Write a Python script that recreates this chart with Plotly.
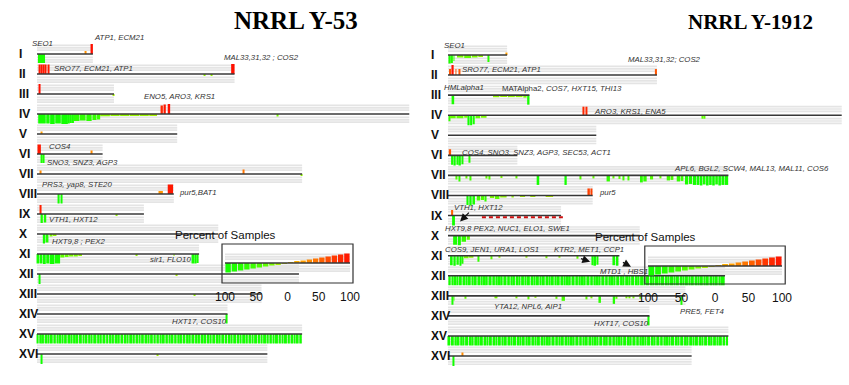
import plotly.graph_objects as go

# ---------------- data ----------------
ROMAN = ["I", "II", "III", "IV", "V", "VI", "VII", "VIII", "IX", "X",
         "XI", "XII", "XIII", "XIV", "XV", "XVI"]
CHROM_KB = [230, 813, 317, 1532, 577, 270, 1091, 563, 440, 746, 667, 1078, 924, 784, 1091, 948]
STRAINS = ["NRRL Y-53", "NRRL Y-1912"]

# (chromosome, start kb, end kb, percent of samples; + gain, - loss)
Y53_GAINS = [
    (1, 196, 200, 30), (1, 224, 230, 100),
    (2, 8, 12, 95), (2, 18, 22, 95), (2, 26, 31, 95), (2, 35, 39, 95), (2, 44, 49, 95), (2, 799, 813, 100),
    (3, 10, 14, 100),
    (4, 512, 518, 85), (4, 524, 530, 95), (4, 538, 548, 100),
    (5, 18, 22, 25),
    (6, 2, 16, 95), (6, 224, 228, 35),
    (7, 12, 16, 35), (7, 846, 851, 45),
    (8, 500, 518, 30), (8, 538, 560, 95),
    (9, 12, 16, 90),
]
Y53_LOSSES = [
    (1, 4, 33, -90),
    (2, 686, 690, -20), (2, 716, 720, -20),
    (3, 313, 317, -15),
    (4, 5, 36, -95), (4, 38, 52, -95), (4, 54, 73, -100), (4, 75, 98, -95), (4, 100, 127, -100),
    (4, 129, 135, -95), (4, 137, 143, -90), (4, 145, 152, -90),
    (4, 152, 175, -70), (4, 177, 200, -65), (4, 203, 225, -70), (4, 228, 245, -60), (4, 247, 260, -55),
    (4, 260, 300, -22), (4, 302, 340, -20), (4, 342, 380, -20), (4, 382, 420, -18), (4, 422, 460, -18),
    (4, 462, 494, -15), (4, 986, 992, -25),
    (6, 17, 21, -90), (6, 25, 29, -90),
    (7, 1087, 1091, -20),
    (8, 88, 93, -95), (8, 100, 105, -95),
    (9, 18, 24, -90), (9, 28, 38, -85), (9, 326, 331, -20),
    (10, 24, 33, -95), (10, 35, 47, -85), (10, 52, 64, -25), (10, 66, 80, -20),
    (11, 2, 10, -95), (11, 12, 22, -95), (11, 24, 36, -100), (11, 38, 50, -95), (11, 52, 72, -100),
    (11, 74, 95, -95), (11, 96, 112, -35), (11, 114, 130, -30), (11, 132, 150, -25), (11, 152, 168, -25),
    (11, 170, 185, -20), (11, 409, 413, -20), (11, 562, 566, -20),
    (11, 640, 648, -95), (11, 651, 656, -95), (11, 659, 664, -90),
    (12, 10, 14, -100), (12, 573, 577, -15),
    (13, 645, 649, -20),
    (14, 778, 784, -95),
    (16, 18, 22, -100), (16, 495, 499, -15),
]
# block edges (kb) of densely lost chromosomes
Y53_XV_EDGES = [0, 8, 21, 30, 44, 52, 66, 79, 88, 101, 110, 124, 139, 147, 160, 171, 186, 196, 209, 221,
                230, 246, 258, 268, 283, 295, 307, 318, 333, 342, 356, 369, 378, 393, 404, 417, 427, 441,
                455, 464, 478, 490, 503, 512, 527, 540, 549, 563, 576, 588, 598, 612, 625, 634, 649, 661,
                672, 686, 697, 710, 720, 735, 748, 757, 772, 784, 797, 806, 821, 833, 843, 858, 869, 882,
                892, 907, 919, 929, 944, 955, 968, 978, 993, 1005, 1015, 1030, 1042, 1055, 1064, 1078, 1091]

Y1912_GAINS = [
    (1, 227, 230, 25),
    (2, 4, 12, 60), (2, 16, 22, 100), (2, 29, 32, 60), (2, 42, 47, 60), (2, 805, 813, 60),
    (4, 525, 531, 85), (4, 536, 542, 85),
    (6, 3, 12, 60),
    (8, 545, 552, 70), (8, 555, 561, 70),
    (9, 12, 20, 55),
    (16, 56, 60, 35),
]
Y1912_LOSSES = [
    (1, 4, 10, -85), (1, 12, 19, -80), (1, 22, 25, -60), (1, 35, 60, -25), (1, 63, 90, -30),
    (1, 93, 115, -25), (1, 118, 136, -20), (1, 154, 158, -70),
    (3, 14, 24, -90), (3, 175, 200, -20), (3, 203, 230, -18), (3, 233, 260, -20), (3, 263, 290, -20),
    (3, 293, 306, -25), (3, 308, 317, -95),
    (4, 3, 6, -60), (4, 8, 30, -30), (4, 33, 60, -30), (4, 63, 76, -25), (4, 78, 84, -100),
    (4, 86, 94, -100), (4, 96, 104, -90), (4, 107, 125, -30), (4, 128, 150, -25),
    (4, 988, 992, -35), (4, 996, 1000, -35),
    (6, 12, 20, -95), (6, 23, 30, -100), (6, 33, 40, -95), (6, 43, 50, -100), (6, 53, 58, -90), (6, 80, 84, -75),
    (7, 32, 36, -40), (7, 42, 46, -60), (7, 71, 75, -30), (7, 84, 88, -50), (7, 148, 152, -30),
    (7, 161, 165, -40), (7, 207, 211, -25), (7, 265, 269, -30), (7, 345, 355, -95), (7, 455, 462, -95),
    (7, 512, 516, -40), (7, 563, 567, -30), (7, 617, 630, -60), (7, 640, 644, -30), (7, 667, 671, -35),
    (7, 679, 683, -50), (7, 700, 704, -50), (7, 747, 758, -70), (7, 760, 773, -60), (7, 786, 798, -40),
    (7, 823, 827, -30), (7, 851, 864, -50), (7, 866, 877, -45), (7, 890, 903, -60), (7, 905, 916, -55),
    (7, 922, 934, -90), (7, 937, 950, -85), (7, 953, 966, -95),
    (7, 968, 978, -95), (7, 980, 990, -100), (7, 992, 1002, -90), (7, 1004, 1014, -100), (7, 1016, 1026, -95),
    (7, 1028, 1038, -100), (7, 1040, 1050, -90), (7, 1052, 1062, -100), (7, 1064, 1074, -95), (7, 1076, 1090, -95),
    (8, 73, 80, -95), (8, 83, 92, -100), (8, 95, 105, -90), (8, 112, 125, -50), (8, 128, 140, -45),
    (8, 143, 150, -60), (8, 163, 180, -25), (8, 183, 200, -35), (8, 203, 228, -20), (8, 250, 256, -20),
    (8, 280, 300, -15), (8, 320, 340, -15), (8, 380, 409, -12),
    (9, 16, 27, -100),
    (10, 20, 35, -90), (10, 38, 50, -95), (10, 53, 70, -60), (10, 73, 85, -40),
    (11, 8, 18, -95), (11, 21, 30, -100), (11, 33, 42, -90), (11, 45, 52, -100), (11, 55, 60, -80),
    (11, 62, 80, -25), (11, 82, 99, -20), (11, 115, 119, -60), (11, 168, 172, -35), (11, 200, 203, -20),
    (11, 305, 309, -20), (11, 380, 384, -25), (11, 430, 434, -20), (11, 500, 505, -30),
    (11, 559, 566, -95), (11, 569, 576, -100), (11, 579, 585, -90), (11, 643, 650, -95), (11, 653, 663, -100),
    (13, 15, 19, -90), (13, 22, 25, -50), (13, 64, 68, -30), (13, 181, 185, -25), (13, 188, 192, -25),
    (13, 265, 269, -25), (13, 310, 314, -35), (13, 337, 341, -20), (13, 421, 425, -30), (13, 442, 455, -50),
    (13, 538, 542, -35), (13, 557, 561, -25), (13, 589, 595, -70), (13, 641, 650, -80), (13, 654, 658, -30),
    (13, 693, 697, -25), (13, 706, 710, -25), (13, 718, 722, -25), (13, 745, 749, -30), (13, 907, 912, -90),
    (14, 779, 784, -95),
    (16, 18, 22, -100),
]
Y1912_XII_EDGES = [0, 12, 20, 34, 41, 55, 68, 75, 90, 98, 113, 126, 133, 148, 156, 171, 184, 191, 206, 214,
                   229, 242, 249, 262, 275, 283, 297, 305, 320, 333, 340, 355, 363, 378, 391, 398, 413, 421,
                   436, 449, 456, 471, 479, 494, 507, 514, 529, 537, 552, 565, 572, 587, 595, 610, 623, 630,
                   645, 653, 668, 681, 688, 703, 711, 726, 739, 746, 761, 769, 784, 797, 804, 819, 827, 842,
                   855, 862, 877, 885, 900, 913, 920, 935, 943, 958, 971, 978, 993, 1001, 1016, 1029, 1036,
                   1051, 1059, 1078]
Y1912_XV_EDGES = [0, 10, 24, 31, 46, 58, 65, 80, 93, 101, 116, 122, 137, 150, 158, 172, 185, 193, 207, 215,
                  230, 243, 251, 266, 279, 286, 300, 308, 323, 336, 344, 359, 372, 379, 393, 401, 416, 429,
                  437, 452, 465, 472, 486, 494, 509, 522, 530, 545, 558, 565, 579, 587, 602, 615, 623, 638,
                  651, 658, 672, 680, 695, 708, 716, 731, 744, 751, 765, 773, 788, 801, 809, 824, 837, 844,
                  858, 866, 881, 894, 902, 917, 930, 937, 951, 959, 974, 987, 995, 1010, 1023, 1030, 1044,
                  1052, 1067, 1080, 1091]
DENSE_PCT = -95
Y1912_IX_DASH = (9, 132, 447)

# gene labels: (text, chromosome, kb, row offset)
Y53_LABELS = [
    ("SEO1", 1, -29, -0.55), ("ATP1, ECM21", 1, 226, -0.85),
    ("MAL33,31,32 ; COS2", 2, 761, -0.85), ("SRO77, ECM21, ATP1", 2, 62, -0.3),
    ("ENO5, ARO3, KRS1", 4, 432, -0.9),
    ("COS4", 6, 41, -0.4), ("SNO3, SNZ3, AGP3", 6, 33, 0.4),
    ("PRS3, yap8, STE20", 8, 12, -0.5), ("pur5,BAT1", 8, 576, -0.1),
    ("VTH1, HXT12", 9, 41, 0.25), ("HXT9,8 ; PEX2", 10, 53, 0.35),
    ("sir1, FLO10", 11, 457, 0.25), ("HXT17, COS10", 14, 547, 0.35),
]
Y1912_LABELS = [
    ("SEO1", 1, -23, -0.45), ("MAL33,31,32; COS2", 2, 693, -0.8), ("SRO77, ECM21, ATP1", 2, 47, -0.3),
    ("HMLalpha1", 3, -22, -0.38), ("MATAlpha2, <i>COS7, HXT15, THI13</i>", 3, 202, -0.35),
    ("ARO3, KRS1, ENA5", 4, 560, -0.2),
    ("COS4, SNO3, SNZ3, AGP3, SEC53, ACT1", 6, 47, -0.15),
    ("APL6, BGL2, SCW4, MAL13, MAL11, COS6", 7, 872, -0.35),
    ("pur5", 8, 580, -0.15), ("VTH1, HXT12", 9, 16, -0.4),
    ("HXT9,8 PEX2, NUC1, ELO1, SWE1", 10, -19, -0.35),
    ("COS9, JEN1, URA1, LOS1", 11, -19, -0.3), ("KTR2, MET1, CCP1", 11, 405, -0.3),
    ("MTD1 , HBS1", 11, 584, 0.8),
    ("YTA12, NPL6, AIP1", 13, 171, 0.55), ("PRE5, FET4", 13, 895, 0.8),
    ("HXT17, COS10", 14, 560, 0.4),
]
# arrows: (chromosome, tail kb, tail offset, head kb, head offset)
Y1912_ARROWS = [(9, 93, -0.3, 47, 0.3), (11, 506, 0.1, 553, 0.3), (11, 669, 0.25, 712, 0.55)]

LEGEND_PCT = [-95, -85, -75, -65, -55, -45, -35, -25, -15, -5, 5, 15, 25, 35, 45, 55, 65, 75, 85, 95]
LEGEND_TICKS = [-100, -50, 0, 50, 100]
LEGEND_TICKTEXT = ["100", "50", "0", "50", "100"]

# ---------------- style ----------------
SANS = "Liberation Sans"
SERIF = "Liberation Serif"
SCALE = 0.005          # rows per percent
STRIPES = [-0.43, -0.31, -0.19, 0.17, 0.29, 0.41]
COLORSCALE = [[0.0, "#11ff00"], [0.2, "#33ff00"], [0.35, "#66ff00"], [0.45, "#bbee00"],
              [0.5, "#eedd00"], [0.55, "#ffbb00"], [0.7, "#ff8000"], [0.85, "#ff4000"], [1.0, "#ff1000"]]
W, H = 849, 385
LEFT_PX0, LEFT_PXKB = 37, 0.243      # left panel: pixel of 0 kb, pixels per kb
RIGHT_PX0, RIGHT_PXKB = 448, 0.257
KB_LO = -150


def dense(chrom, edges, pct):
    return [(chrom, a + 1.5, b - 1.5, pct) for a, b in zip(edges[:-1], edges[1:])]


def bar_trace(feats, xa, ya):
    return go.Bar(
        x=[(a + b) / 2 for _, a, b, _ in feats],
        width=[max(b - a, 3) for _, a, b, _ in feats],
        base=[c - 1 for c, _, _, _ in feats],
        y=[-p * SCALE for _, _, _, p in feats],
        marker=dict(color=[p for *_, p in feats], colorscale=COLORSCALE, cmin=-100, cmax=100,
                    line=dict(width=0)),
        xaxis=xa, yaxis=ya, hoverinfo="skip")


def stripe_shapes(spans, xa, ya):
    out = []
    for row, a, b in spans:
        for off in STRIPES:
            out.append(dict(type="line", xref=xa, yref=ya, x0=a, x1=b, y0=row + off, y1=row + off,
                            line=dict(color="#e4e4e4", width=1.7), layer="below"))
    return out


def baseline_trace(spans, xa, ya):
    xs, ys = [], []
    for row, a, b in spans:
        xs += [a, b, None]
        ys += [row, row, None]
    return go.Scatter(x=xs, y=ys, mode="lines", line=dict(color="#383838", width=1.6),
                      xaxis=xa, yaxis=ya, hoverinfo="skip")


fig = go.Figure()
chrom_spans = [(i, 0, L) for i, L in enumerate(CHROM_KB)]
shapes = []

panels = [
    ("x", "y", Y53_GAINS + Y53_LOSSES + dense(15, Y53_XV_EDGES, DENSE_PCT)),
    ("x2", "y2", Y1912_GAINS + Y1912_LOSSES + dense(12, Y1912_XII_EDGES, DENSE_PCT)
     + dense(15, Y1912_XV_EDGES, DENSE_PCT)),
]
for xa, ya, feats in panels:
    shapes += stripe_shapes(chrom_spans, xa, ya)
    fig.add_trace(bar_trace(feats, xa, ya))
    fig.add_trace(baseline_trace(chrom_spans, xa, ya))

c, a, b = Y1912_IX_DASH
fig.add_trace(go.Scatter(x=[a, b], y=[c - 1 + 0.08] * 2, mode="lines",
                         line=dict(color="#cc1010", width=2, dash="4px,3px"),
                         xaxis="x2", yaxis="y2", hoverinfo="skip"))

# legend insets
for xa, ya in [("x3", "y3"), ("x4", "y4")]:
    shapes += stripe_shapes([(0, -100, 100)], xa, ya)
    fig.add_trace(go.Bar(x=LEGEND_PCT, width=[8.6] * len(LEGEND_PCT), base=[0] * len(LEGEND_PCT),
                         y=[-p * SCALE for p in LEGEND_PCT],
                         marker=dict(color=LEGEND_PCT, colorscale=COLORSCALE, cmin=-100, cmax=100,
                                     line=dict(width=0)),
                         xaxis=xa, yaxis=ya, hoverinfo="skip"))
    fig.add_trace(baseline_trace([(0, -100, 100)], xa, ya))
    shapes.append(dict(type="rect", xref=xa + " domain", yref=ya + " domain", x0=-0.024, x1=1.024,
                       y0=0, y1=1, line=dict(color="#333", width=1.2), fillcolor="rgba(0,0,0,0)",
                       layer="above"))

hidden = dict(visible=False, showgrid=False, zeroline=False)
tickax = dict(showgrid=False, zeroline=False, showline=False, ticks="", tickvals=LEGEND_TICKS,
              ticktext=LEGEND_TICKTEXT, tickfont=dict(family=SANS, size=12, color="#111"),
              ticklabelstandoff=5, range=[-100, 100])
fig.update_layout(
    width=W, height=H, margin=dict(l=0, r=0, t=0, b=0, pad=0, autoexpand=False),
    paper_bgcolor="white", plot_bgcolor="rgba(0,0,0,0)", showlegend=False, barmode="overlay",
    xaxis=dict(domain=[(LEFT_PX0 + KB_LO * LEFT_PXKB) / W, (LEFT_PX0 + 1600 * LEFT_PXKB) / W],
               range=[KB_LO, 1600], **hidden),
    yaxis=dict(domain=[0, 1], range=[16.55, -2.7], **hidden),
    xaxis2=dict(domain=[(RIGHT_PX0 + KB_LO * RIGHT_PXKB) / W, 1.0],
                range=[KB_LO, (W - RIGHT_PX0) / RIGHT_PXKB], anchor="y2", **hidden),
    yaxis2=dict(domain=[0, 1], range=[16.443, -2.74], anchor="x2", **hidden),
    xaxis3=dict(domain=[225 / W, 350 / W], anchor="y3", **tickax),
    yaxis3=dict(domain=[(H - 283) / H, (H - 244) / H], range=[1.0, -0.95], anchor="x3", **hidden),
    xaxis4=dict(domain=[648 / W, 782 / W], anchor="y4", **tickax),
    yaxis4=dict(domain=[(H - 284) / H, (H - 246) / H], range=[0.9, -1.0], anchor="x4", **hidden),
    shapes=shapes,
)

ann = []
# titles
ann.append(dict(text="<b>%s</b>" % STRAINS[0], x=296 / W, y=1 - 20 / H, xref="paper", yref="paper",
                xanchor="center", yanchor="middle", showarrow=False,
                font=dict(family=SERIF, size=25, color="black")))
ann.append(dict(text="<b>%s</b>" % STRAINS[1], x=750 / W, y=1 - 22 / H, xref="paper", yref="paper",
                xanchor="center", yanchor="middle", showarrow=False,
                font=dict(family=SERIF, size=21, color="black")))
# row labels
for i, r in enumerate(ROMAN):
    ann.append(dict(text="<b>%s</b>" % r, x=17 / W, xref="paper", y=i, yref="y", xanchor="left",
                    yanchor="middle", showarrow=False, font=dict(family=SANS, size=12, color="#111")))
    ann.append(dict(text="<b>%s</b>" % r, x=429 / W, xref="paper", y=i, yref="y2", xanchor="left",
                    yanchor="middle", showarrow=False, font=dict(family=SANS, size=12, color="#111")))
# gene labels
for labels, xa, ya in [(Y53_LABELS, "x", "y"), (Y1912_LABELS, "x2", "y2")]:
    for text, c, kb, dy in labels:
        t = text if "<i>" in text else "<i>%s</i>" % text
        ann.append(dict(text=t, x=kb, y=c - 1 + dy, xref=xa, yref=ya, xanchor="left", yanchor="middle",
                        showarrow=False, font=dict(family=SANS, size=7.8, color="#333")))
for c, tk, td, hk, hd in Y1912_ARROWS:
    ann.append(dict(text=" ", x=hk, y=c - 1 + hd, xref="x2", yref="y2", ax=tk, ay=c - 1 + td,
                    axref="x2", ayref="y2", showarrow=True, arrowhead=2, arrowsize=1.2,
                    arrowwidth=1.3, arrowcolor="#111", standoff=0))
# legend titles
ann.append(dict(text="Percent of Samples", x=173 / W, y=1 - 235 / H, xref="paper", yref="paper",
                xanchor="left", yanchor="middle", showarrow=False,
                font=dict(family=SANS, size=11.5, color="#111")))
ann.append(dict(text="Percent of Samples", x=593 / W, y=1 - 237 / H, xref="paper", yref="paper",
                xanchor="left", yanchor="middle", showarrow=False,
                font=dict(family=SANS, size=11.5, color="#111")))
fig.update_layout(annotations=ann)

fig.write_html("out.html", config={"displayModeBar": False},
               post_script="document.body.style.margin='0px';")
